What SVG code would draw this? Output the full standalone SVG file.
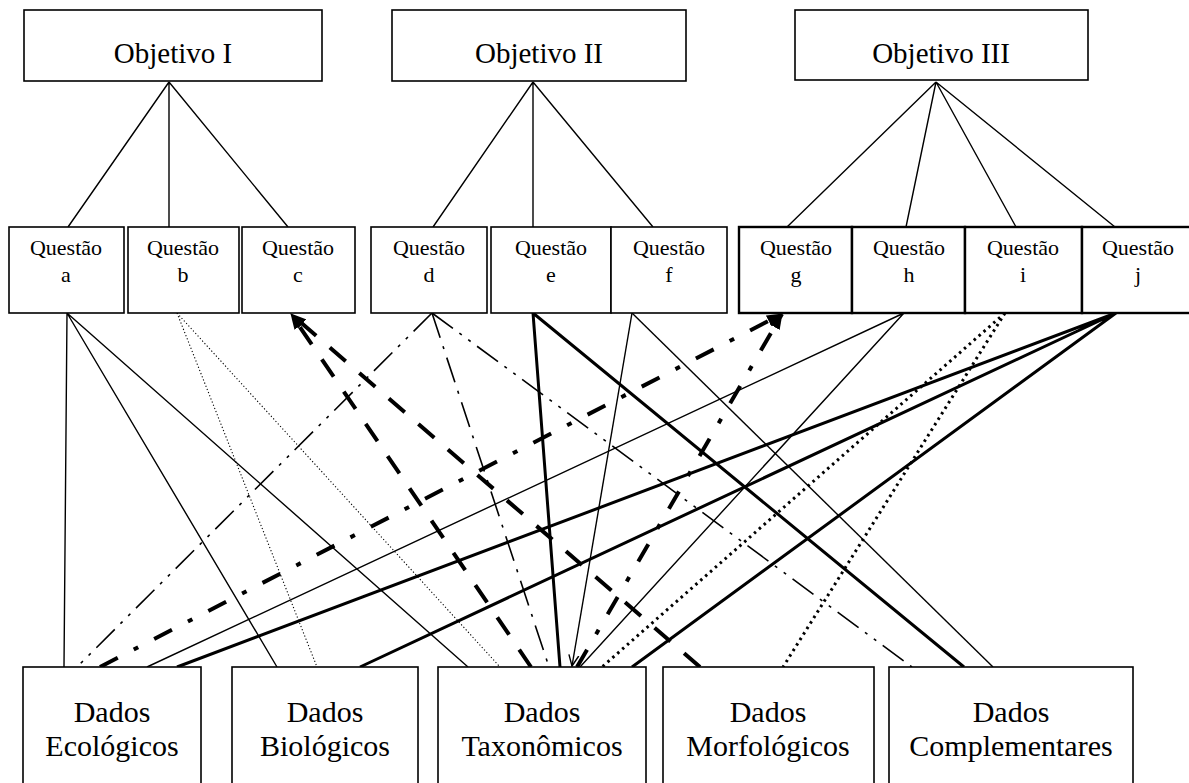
<svg xmlns="http://www.w3.org/2000/svg" width="1189" height="783" viewBox="0 0 1189 783">
<style>
.box{fill:#fff;stroke:#000;stroke-width:1.6}
.boxb{fill:#fff;stroke:#000;stroke-width:2.4}
.t{font-family:"Liberation Serif","Times New Roman",serif;fill:#000;text-anchor:middle}
.obj{font-size:29px}
.q{font-size:22px}
.d{font-size:30px}
.c{fill:none;stroke:#000}
.thin{stroke-width:1.4}
.thick{stroke-width:3}
.fdot{stroke-width:1.1;stroke-dasharray:1.2 2.2}
.tdot{stroke-width:3;stroke-dasharray:2.5 4;stroke-linecap:butt}
.tdash{stroke-width:4;stroke-dasharray:21 18}
.tdd{stroke-width:4;stroke-dasharray:20 18 5 18}
.dd{stroke-width:1.6;stroke-dasharray:26 8 3 8 3 8}
.dda{stroke-width:1.6;stroke-dasharray:26 9 3 9}
</style>
<defs>
<marker id="ah" viewBox="0 0 16 12" refX="15" refY="6" markerWidth="16" markerHeight="12" orient="auto" markerUnits="userSpaceOnUse">
<path d="M0,0 L16,6 L0,12 z" fill="#000"/>
</marker>
<marker id="ao" viewBox="0 0 12 12" refX="11" refY="6" markerWidth="12" markerHeight="12" orient="auto" markerUnits="userSpaceOnUse">
<path d="M0,1 L11,6 L0,11" fill="none" stroke="#000" stroke-width="1.4"/>
</marker>
</defs>
<rect width="1189" height="783" fill="#fff"/>

<g id="connectors">
<!-- objective to questions -->
<path class="c thin" d="M169,82 L68,227 M169,82 L169,227 M169,82 L288,227"/>
<path class="c thin" d="M533,82 L433,227 M533,82 L533,227 M533,82 L653,227"/>
<path class="c thin" d="M936,82 L787,227 M936,82 L906,227 M936,82 L1016,227 M936,82 L1115,227"/>
<!-- a -->
<path class="c thin" d="M67,313 L64,667 M67,313 L277,667 M67,313 L468,667"/>
<!-- b -->
<path class="c fdot" d="M177,313 L317,667 M177,313 L500,667"/>
<!-- c -->
<path class="c tdash" d="M531,667 L291,314" marker-end="url(#ah)"/>
<path class="c tdash" d="M700,667 L291,314" marker-end="url(#ah)"/>
<!-- d -->
<path class="c dd" d="M432,313 L77,667"/>
<path class="c dda" d="M432,313 L549,667"/>
<path class="c dd" d="M432,313 L912,667"/>
<!-- e -->
<path class="c thick" d="M533,313 L560,667 M533,313 L964,667"/>
<!-- f -->
<path class="c thin" d="M632,313 L572,666" marker-end="url(#ao)"/>
<path class="c thin" d="M632,313 L993,667"/>
<!-- g -->
<path class="c tdd" d="M100,667 L782,314" marker-end="url(#ah)"/>
<path class="c tdd" d="M577,667 L782,314" marker-end="url(#ah)"/>
<!-- h -->
<path class="c thin" d="M904,313 L147,667 M904,313 L580,667"/>
<!-- i -->
<path class="c tdot" d="M1005,313 L602,667 M1005,313 L783,667"/>
<!-- j -->
<path class="c thick" d="M1116,313 L177,667 M1116,313 L360,667 M1116,313 L632,667"/>
</g>

<g id="obj1"><rect class="box" x="24" y="10" width="298" height="71"/><text class="t obj" x="173" y="63">Objetivo I</text></g>
<g id="obj2"><rect class="box" x="392" y="10" width="294" height="71"/><text class="t obj" x="539" y="63">Objetivo II</text></g>
<g id="obj3"><rect class="box" x="795" y="10" width="293" height="70"/><text class="t obj" x="941" y="63">Objetivo III</text></g>

<g id="qa"><rect class="box" x="9" y="227" width="115" height="86"/><text class="t q" x="66" y="255">Questão</text><text class="t q" x="66" y="282">a</text></g>
<g id="qb"><rect class="box" x="128" y="227" width="111" height="86"/><text class="t q" x="183" y="255">Questão</text><text class="t q" x="183" y="282">b</text></g>
<g id="qc"><rect class="box" x="242" y="227" width="113" height="86"/><text class="t q" x="298" y="255">Questão</text><text class="t q" x="298" y="282">c</text></g>
<g id="qd"><rect class="box" x="371" y="227" width="116" height="86"/><text class="t q" x="429" y="255">Questão</text><text class="t q" x="429" y="282">d</text></g>
<g id="qe"><rect class="box" x="491" y="227" width="120" height="86"/><text class="t q" x="551" y="255">Questão</text><text class="t q" x="551" y="282">e</text></g>
<g id="qf"><rect class="box" x="611" y="227" width="116" height="86"/><text class="t q" x="669" y="255">Questão</text><text class="t q" x="669" y="282">f</text></g>
<g id="qg"><rect class="boxb" x="739" y="227" width="113" height="86"/><text class="t q" x="796" y="255">Questão</text><text class="t q" x="796" y="282">g</text></g>
<g id="qh"><rect class="boxb" x="852" y="227" width="113" height="86"/><text class="t q" x="909" y="255">Questão</text><text class="t q" x="909" y="282">h</text></g>
<g id="qi"><rect class="boxb" x="965" y="227" width="117" height="86"/><text class="t q" x="1023" y="255">Questão</text><text class="t q" x="1023" y="282">i</text></g>
<g id="qj"><rect class="boxb" x="1082" y="227" width="112" height="86"/><text class="t q" x="1138" y="255">Questão</text><text class="t q" x="1138" y="282">j</text></g>

<g id="eco"><rect class="box" x="23" y="667" width="178" height="125"/><text class="t d" x="112" y="722">Dados</text><text class="t d" x="112" y="756">Ecológicos</text></g>
<g id="bio"><rect class="box" x="232" y="667" width="186" height="125"/><text class="t d" x="325" y="722">Dados</text><text class="t d" x="325" y="756">Biológicos</text></g>
<g id="tax"><rect class="box" x="438" y="667" width="208" height="125"/><text class="t d" x="542" y="722">Dados</text><text class="t d" x="542" y="756">Taxonômicos</text></g>
<g id="mor"><rect class="box" x="663" y="667" width="211" height="125"/><text class="t d" x="768" y="722">Dados</text><text class="t d" x="768" y="756">Morfológicos</text></g>
<g id="com"><rect class="box" x="889" y="667" width="244" height="125"/><text class="t d" x="1011" y="722">Dados</text><text class="t d" x="1011" y="756">Complementares</text></g>
</svg>
